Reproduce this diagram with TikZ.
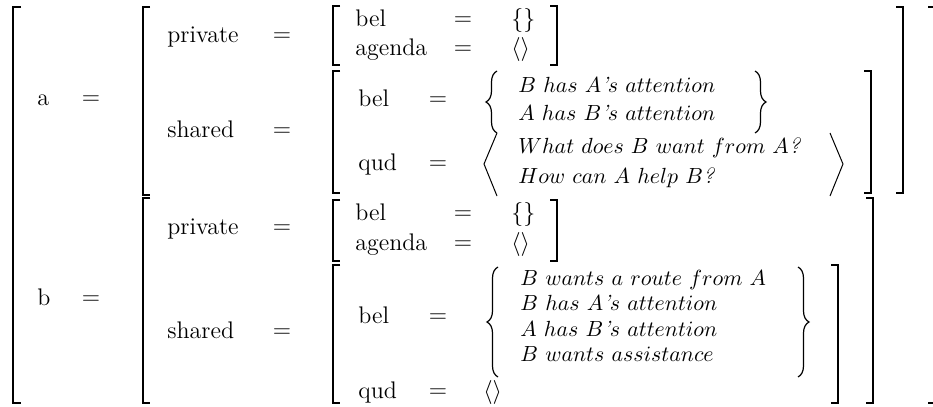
\documentclass[tikz,border=0pt]{standalone}
\usetikzlibrary{decorations.pathreplacing}
\usepackage{amsmath}

\begin{document}
\begin{tikzpicture}[
    x=0.5pt, y=-0.5pt,
    key_text/.style={anchor=west, inner sep=0pt, font=\large, text height=1.5ex, text depth=.25ex},
    val_text/.style={anchor=west, inner sep=0pt, font=\fontsize{11}{13}\selectfont, text height=1.5ex, text depth=.25ex},
    eq_sign/.style={inner sep=0pt, font=\large},
    bracket_line/.style={line width=1pt},
    brace_line/.style={line width=0.6pt, decorate, decoration={brace, amplitude=5.5pt}},
    angle_line/.style={line width=0.5pt}
]
    \useasboundingbox (0,0) rectangle (933,407);
        % top level
        \node[key_text] (A) at (37,100) {a};
        \node[eq_sign] (Aeq) at (91,100) {$=$};
        \node[key_text] (B) at (37,300) {b};
        \node[eq_sign] (Beq) at (91,300) {$=$};
        % a: private / shared
        \node[key_text] (APriv) at (167,37) {private};
        \node[eq_sign] (APriveq) at (282,37) {$=$};
        \node[key_text] (AShared) at (167,132) {shared};
        \node[eq_sign] (ASharedeq) at (282,132) {$=$};
        \node[key_text] (APBel) at (355,21) {bel};
        \node[eq_sign] (APBeleq) at (463,21) {$=$};
        \node[key_text] (APBelv) at (511,21) {$\{\}$};
        \node[key_text] (APAg) at (355,50) {agenda};
        \node[eq_sign] (APAgeq) at (463,50) {$=$};
        \node[key_text] (APAgv) at (511,50) {$\langle\rangle$};
        \node[key_text] (ASBel) at (358,101) {bel};
        \node[eq_sign] (ASBeleq) at (438,101) {$=$};
        \node[val_text] (ASBel1) at (518,87) {$B\ has\ A\mbox{\itshape '}s\ attention$};
        \node[val_text] (ASBel2) at (518,115) {$A\ has\ B\mbox{\itshape '}s\ attention$};
        \node[key_text] (ASQud) at (358,165) {qud};
        \node[eq_sign] (ASQudeq) at (438,165) {$=$};
        \node[val_text] (ASQud1) at (518,148) {$What\ does\ B\ want\ from\ A\mbox{\itshape ?}$};
        \node[val_text] (ASQud2) at (518,178) {$How\ can\ A\ help\ B\mbox{\itshape ?}$};
        % b: private / shared
        \node[key_text] (BPriv) at (167,229) {private};
        \node[eq_sign] (BPriveq) at (282,229) {$=$};
        \node[key_text] (BShared) at (167,333) {shared};
        \node[eq_sign] (BSharedeq) at (282,333) {$=$};
        \node[key_text] (BPBel) at (355,215) {bel};
        \node[eq_sign] (BPBeleq) at (463,215) {$=$};
        \node[key_text] (BPBelv) at (511,215) {$\{\}$};
        \node[key_text] (BPAg) at (355,245) {agenda};
        \node[eq_sign] (BPAgeq) at (463,245) {$=$};
        \node[key_text] (BPAgv) at (511,245) {$\langle\rangle$};
        \node[key_text] (BSBel) at (358,318) {bel};
        \node[eq_sign] (BSBeleq) at (438,318) {$=$};
        \node[val_text] (BSBel1) at (520,280) {$B\ wants\ a\ route\ from\ A$};
        \node[val_text] (BSBel2) at (520,305) {$B\ has\ A\mbox{\itshape '}s\ attention$};
        \node[val_text] (BSBel3) at (520,331) {$A\ has\ B\mbox{\itshape '}s\ attention$};
        \node[val_text] (BSBel4) at (520,356) {$B\ wants\ assistance$};
        \node[key_text] (BSQud) at (358,393) {qud};
        \node[eq_sign] (BSQudeq) at (438,393) {$=$};
        \node[key_text] (BSQudv) at (483,393) {$\langle\rangle$};
    % outer brackets
    \draw [bracket_line] (21,7) -- (13,7) -- (13,403) -- (21,403);
    \draw [bracket_line] (928,7) -- (936,7) -- (936,403) -- (928,403);
    % brackets of a and b
    \draw [bracket_line] (150,7) -- (143,7) -- (143,195) -- (150,195);
    \draw [bracket_line] (896,7) -- (903,7) -- (903,193) -- (896,193);
    \draw [bracket_line] (150,198) -- (143,198) -- (143,403) -- (150,403);
    \draw [bracket_line] (866,198) -- (873,198) -- (873,403) -- (866,403);
    % private and shared brackets
    \draw [bracket_line] (340,6) -- (333,6) -- (333,65) -- (340,65);
    \draw [bracket_line] (550,6) -- (557,6) -- (557,65) -- (550,65);
    \draw [bracket_line] (340,71) -- (333,71) -- (333,193) -- (340,193);
    \draw [bracket_line] (864,71) -- (871,71) -- (871,193) -- (864,193);
    \draw [bracket_line] (340,200) -- (333,200) -- (333,261) -- (340,261);
    \draw [bracket_line] (550,200) -- (557,200) -- (557,261) -- (550,261);
    \draw [bracket_line] (340,265) -- (333,265) -- (333,403) -- (340,403);
    \draw [bracket_line] (831,265) -- (838,265) -- (838,403) -- (831,403);
    % braces and angles
    \draw [brace_line] (497,133) -- (497,71);
    \draw [brace_line] (755,71) -- (755,133);
    \draw [angle_line] (497,133) -- (484,164) -- (497,196);
    \draw [angle_line] (830,133) -- (843,164) -- (830,196);
    \draw [brace_line] (498,377) -- (498,267);
    \draw [brace_line] (798,267) -- (798,377);

    \end{tikzpicture}
\end{document}
